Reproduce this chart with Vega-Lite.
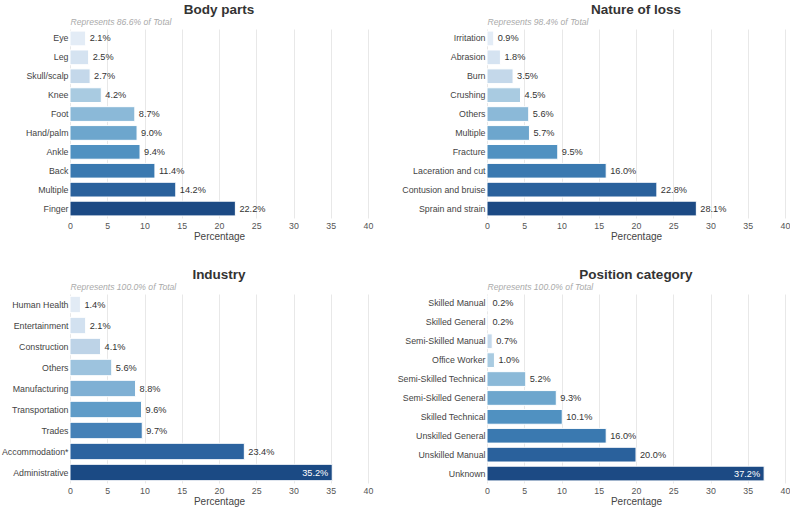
{
  "$schema": "https://vega.github.io/schema/vega-lite/v6.json",
  "background": "white",
  "padding": {"left": 0, "top": 2, "right": 0, "bottom": 0},
  "columns": 2,
  "spacing": {"row": 25, "column": 22},
  "resolve": {"scale": {"x": "independent", "y": "independent", "color": "independent"}},
  "config": {
    "font": "Liberation Sans",
    "view": {"stroke": null},
    "title": {"fontSize": 13.5, "fontWeight": "bold", "color": "#333333", "anchor": "middle", "offset": 1},
    "axis": {"labelColor": "#555555", "labelFontSize": 8.8, "titleFontWeight": "normal", "titleColor": "#444444", "ticks": false, "domain": false},
    "axisY": {"labelColor": "#444444", "labelFontSize": 8.8, "labelPadding": 2, "grid": false},
    "axisX": {"grid": true, "gridColor": "#e8e8e8", "titleFontSize": 10, "titlePadding": 2, "labelPadding": 3, "labelFlush": false}
  },
  "concat": [
    {
      "title": "Body parts",
      "width": 298,
      "height": 189,
      "data": {"values": [
        {"category": "Eye", "pct": 2.1},
        {"category": "Leg", "pct": 2.5},
        {"category": "Skull/scalp", "pct": 2.7},
        {"category": "Knee", "pct": 4.2},
        {"category": "Foot", "pct": 8.7},
        {"category": "Hand/palm", "pct": 9.0},
        {"category": "Ankle", "pct": 9.4},
        {"category": "Back", "pct": 11.4},
        {"category": "Multiple", "pct": 14.2},
        {"category": "Finger", "pct": 22.2}
      ]},
      "transform": [{"calculate": "format(datum.pct, '.1f') + '%'", "as": "lbl"}],
      "encoding": {
        "y": {"field": "category", "type": "nominal", "sort": null, "scale": {"paddingInner": 0.22, "paddingOuter": 0.11}, "axis": {"title": null, "minExtent": 70, "maxExtent": 70}}
      },
      "layer": [
        {
          "mark": {"type": "bar", "stroke": "white", "strokeWidth": 1},
          "encoding": {
            "x": {"field": "pct", "type": "quantitative", "scale": {"domain": [0, 40]}, "axis": {"title": "Percentage", "values": [0, 5, 10, 15, 20, 25, 30, 35, 40]}},
            "color": {"field": "category", "type": "nominal", "sort": null, "legend": null,
              "scale": {"range": ["#e3ecf6", "#d5e3f1", "#c4d8ea", "#a9cbe1", "#8bb9d8", "#6da6cd", "#5091c1", "#3a79b0", "#2a619c", "#1c4a84"]}}
          }
        },
        {
          "transform": [{"filter": "datum.pct < 30"}],
          "mark": {"type": "text", "align": "left", "dx": 4, "fontSize": 9.2, "color": "#333333"},
          "encoding": {
            "x": {"field": "pct", "type": "quantitative", "axis": {"orient": "top", "title": "Represents 86.6% of Total", "titleAnchor": "start", "titleFontStyle": "italic", "titleFontSize": 8.6, "titleColor": "#aaaaaa", "titlePadding": 3, "labels": false, "grid": false}},
            "text": {"field": "lbl"}
          }
        },
        {
          "transform": [{"filter": "datum.pct >= 30"}],
          "mark": {"type": "text", "align": "right", "dx": -4, "fontSize": 9.2, "color": "white"},
          "encoding": {
            "x": {"field": "pct", "type": "quantitative", "axis": null},
            "text": {"field": "lbl"}
          }
        }
      ],
      "resolve": {"axis": {"x": "independent"}}
    },
    {
      "title": "Nature of loss",
      "width": 298,
      "height": 189,
      "data": {"values": [
        {"category": "Irritation", "pct": 0.9},
        {"category": "Abrasion", "pct": 1.8},
        {"category": "Burn", "pct": 3.5},
        {"category": "Crushing", "pct": 4.5},
        {"category": "Others", "pct": 5.6},
        {"category": "Multiple", "pct": 5.7},
        {"category": "Fracture", "pct": 9.5},
        {"category": "Laceration and cut", "pct": 16.0},
        {"category": "Contusion and bruise", "pct": 22.8},
        {"category": "Sprain and strain", "pct": 28.1}
      ]},
      "transform": [{"calculate": "format(datum.pct, '.1f') + '%'", "as": "lbl"}],
      "encoding": {
        "y": {"field": "category", "type": "nominal", "sort": null, "scale": {"paddingInner": 0.22, "paddingOuter": 0.11}, "axis": {"title": null, "minExtent": 92, "maxExtent": 92}}
      },
      "layer": [
        {
          "mark": {"type": "bar", "stroke": "white", "strokeWidth": 1},
          "encoding": {
            "x": {"field": "pct", "type": "quantitative", "scale": {"domain": [0, 40]}, "axis": {"title": "Percentage", "values": [0, 5, 10, 15, 20, 25, 30, 35, 40]}},
            "color": {"field": "category", "type": "nominal", "sort": null, "legend": null,
              "scale": {"range": ["#e3ecf6", "#d5e3f1", "#c4d8ea", "#a9cbe1", "#8bb9d8", "#6da6cd", "#5091c1", "#3a79b0", "#2a619c", "#1c4a84"]}}
          }
        },
        {
          "transform": [{"filter": "datum.pct < 30"}],
          "mark": {"type": "text", "align": "left", "dx": 4, "fontSize": 9.2, "color": "#333333"},
          "encoding": {
            "x": {"field": "pct", "type": "quantitative", "axis": {"orient": "top", "title": "Represents 98.4% of Total", "titleAnchor": "start", "titleFontStyle": "italic", "titleFontSize": 8.6, "titleColor": "#aaaaaa", "titlePadding": 3, "labels": false, "grid": false}},
            "text": {"field": "lbl"}
          }
        },
        {
          "transform": [{"filter": "datum.pct >= 30"}],
          "mark": {"type": "text", "align": "right", "dx": -4, "fontSize": 9.2, "color": "white"},
          "encoding": {
            "x": {"field": "pct", "type": "quantitative", "axis": null},
            "text": {"field": "lbl"}
          }
        }
      ],
      "resolve": {"axis": {"x": "independent"}}
    },
    {
      "title": "Industry",
      "width": 298,
      "height": 189,
      "data": {"values": [
        {"category": "Human Health", "pct": 1.4},
        {"category": "Entertainment", "pct": 2.1},
        {"category": "Construction", "pct": 4.1},
        {"category": "Others", "pct": 5.6},
        {"category": "Manufacturing", "pct": 8.8},
        {"category": "Transportation", "pct": 9.6},
        {"category": "Trades", "pct": 9.7},
        {"category": "Accommodation*", "pct": 23.4},
        {"category": "Administrative", "pct": 35.2}
      ]},
      "transform": [{"calculate": "format(datum.pct, '.1f') + '%'", "as": "lbl"}],
      "encoding": {
        "y": {"field": "category", "type": "nominal", "sort": null, "scale": {"paddingInner": 0.22, "paddingOuter": 0.11}, "axis": {"title": null, "minExtent": 70, "maxExtent": 70}}
      },
      "layer": [
        {
          "mark": {"type": "bar", "stroke": "white", "strokeWidth": 1},
          "encoding": {
            "x": {"field": "pct", "type": "quantitative", "scale": {"domain": [0, 40]}, "axis": {"title": "Percentage", "values": [0, 5, 10, 15, 20, 25, 30, 35, 40]}},
            "color": {"field": "category", "type": "nominal", "sort": null, "legend": null,
              "scale": {"range": ["#e2ebf5", "#d2e1f0", "#bdd3e7", "#9dc3de", "#7fb0d4", "#5f9cc8", "#4581b7", "#2c639f", "#1b4a84"]}}
          }
        },
        {
          "transform": [{"filter": "datum.pct < 30"}],
          "mark": {"type": "text", "align": "left", "dx": 4, "fontSize": 9.2, "color": "#333333"},
          "encoding": {
            "x": {"field": "pct", "type": "quantitative", "axis": {"orient": "top", "title": "Represents 100.0% of Total", "titleAnchor": "start", "titleFontStyle": "italic", "titleFontSize": 8.6, "titleColor": "#aaaaaa", "titlePadding": 3, "labels": false, "grid": false}},
            "text": {"field": "lbl"}
          }
        },
        {
          "transform": [{"filter": "datum.pct >= 30"}],
          "mark": {"type": "text", "align": "right", "dx": -4, "fontSize": 9.2, "color": "white"},
          "encoding": {
            "x": {"field": "pct", "type": "quantitative", "axis": null},
            "text": {"field": "lbl"}
          }
        }
      ],
      "resolve": {"axis": {"x": "independent"}}
    },
    {
      "title": "Position category",
      "width": 298,
      "height": 189,
      "data": {"values": [
        {"category": "Skilled Manual", "pct": 0.2},
        {"category": "Skilled General", "pct": 0.2},
        {"category": "Semi-Skilled Manual", "pct": 0.7},
        {"category": "Office Worker", "pct": 1.0},
        {"category": "Semi-Skilled Technical", "pct": 5.2},
        {"category": "Semi-Skilled General", "pct": 9.3},
        {"category": "Skilled Technical", "pct": 10.1},
        {"category": "Unskilled General", "pct": 16.0},
        {"category": "Unskilled Manual", "pct": 20.0},
        {"category": "Unknown", "pct": 37.2}
      ]},
      "transform": [{"calculate": "format(datum.pct, '.1f') + '%'", "as": "lbl"}],
      "encoding": {
        "y": {"field": "category", "type": "nominal", "sort": null, "scale": {"paddingInner": 0.22, "paddingOuter": 0.11}, "axis": {"title": null, "minExtent": 92, "maxExtent": 92}}
      },
      "layer": [
        {
          "mark": {"type": "bar", "stroke": "white", "strokeWidth": 1},
          "encoding": {
            "x": {"field": "pct", "type": "quantitative", "scale": {"domain": [0, 40]}, "axis": {"title": "Percentage", "values": [0, 5, 10, 15, 20, 25, 30, 35, 40]}},
            "color": {"field": "category", "type": "nominal", "sort": null, "legend": null,
              "scale": {"range": ["#e3ecf6", "#d5e3f1", "#c4d8ea", "#a9cbe1", "#8bb9d8", "#6da6cd", "#5091c1", "#3a79b0", "#2a619c", "#1c4a84"]}}
          }
        },
        {
          "transform": [{"filter": "datum.pct < 30"}],
          "mark": {"type": "text", "align": "left", "dx": 4, "fontSize": 9.2, "color": "#333333"},
          "encoding": {
            "x": {"field": "pct", "type": "quantitative", "axis": {"orient": "top", "title": "Represents 100.0% of Total", "titleAnchor": "start", "titleFontStyle": "italic", "titleFontSize": 8.6, "titleColor": "#aaaaaa", "titlePadding": 3, "labels": false, "grid": false}},
            "text": {"field": "lbl"}
          }
        },
        {
          "transform": [{"filter": "datum.pct >= 30"}],
          "mark": {"type": "text", "align": "right", "dx": -4, "fontSize": 9.2, "color": "white"},
          "encoding": {
            "x": {"field": "pct", "type": "quantitative", "axis": null},
            "text": {"field": "lbl"}
          }
        }
      ],
      "resolve": {"axis": {"x": "independent"}}
    }
  ]
}
